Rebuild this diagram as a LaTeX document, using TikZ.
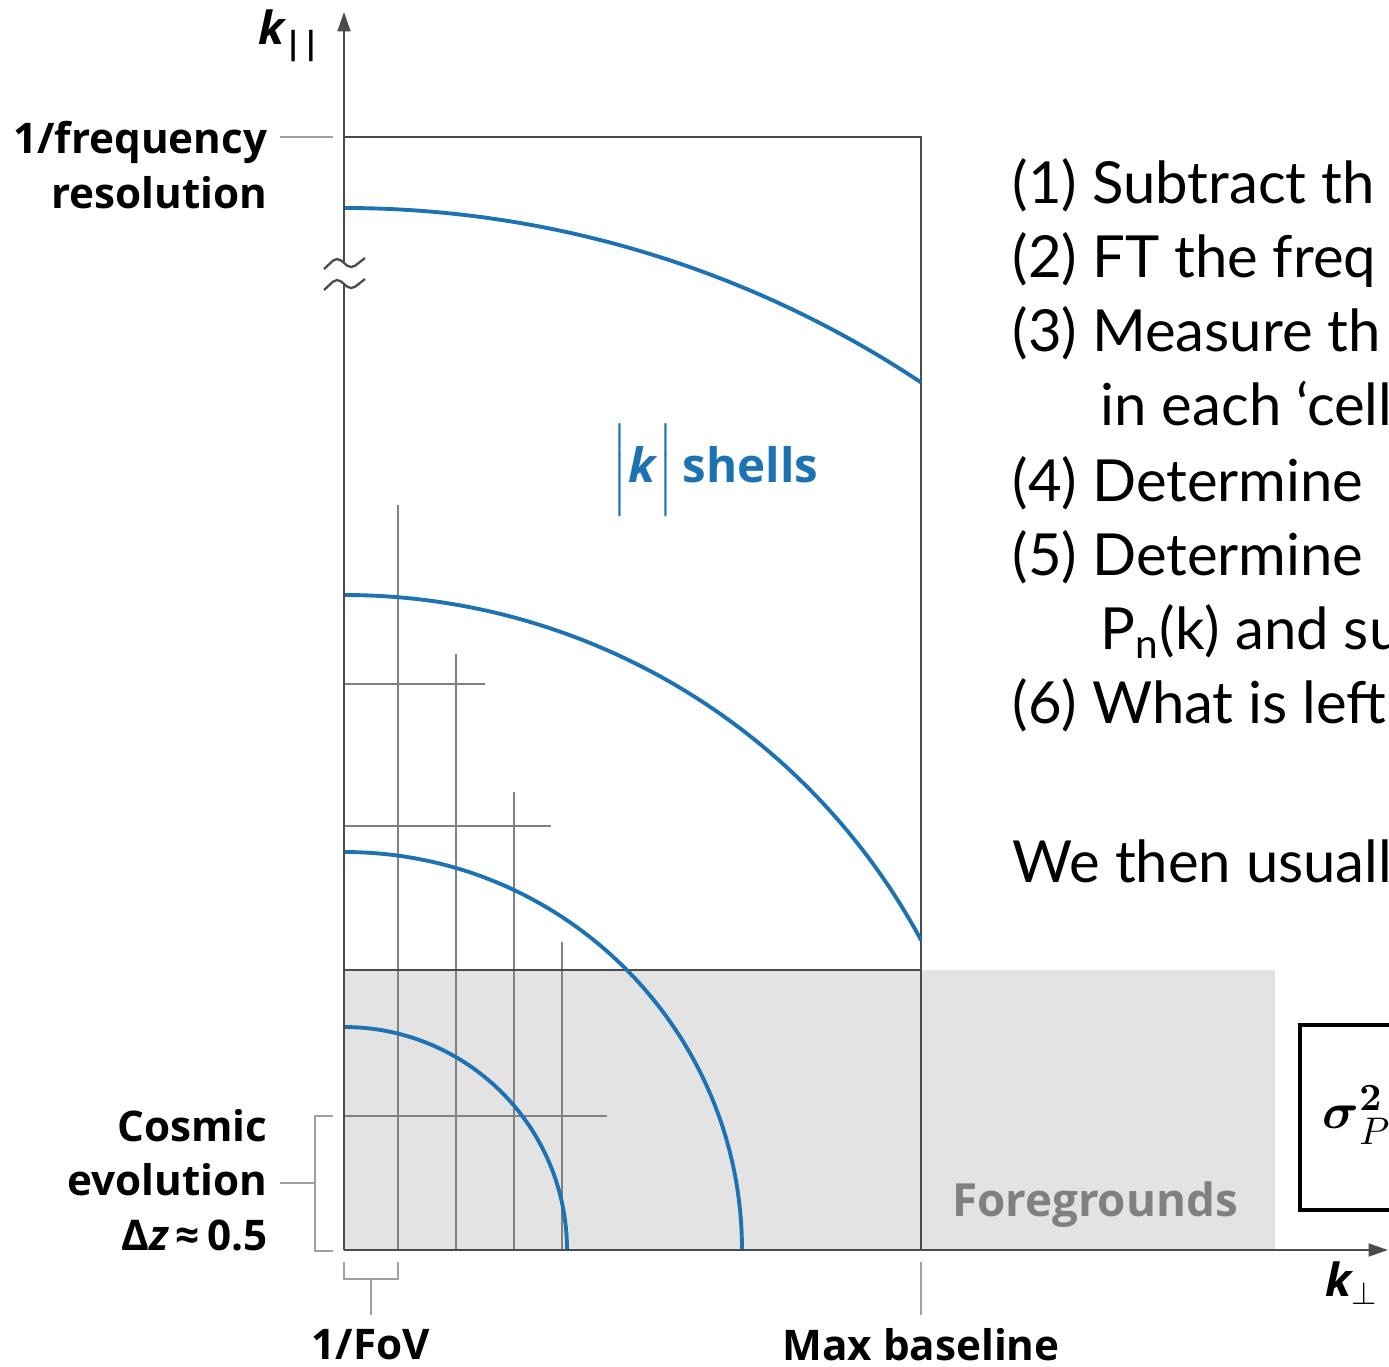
\documentclass[tikz,border=0pt]{standalone}
\usepackage{fontspec}
\usepackage{amsmath}
\usetikzlibrary{arrows.meta}
\newfontfamily\labfont{Open Sans}
\newfontfamily\stepfont{Lato}
\definecolor{shellblue}{RGB}{28,114,178}
\definecolor{fggray}{RGB}{227,227,227}
\definecolor{fgtext}{RGB}{128,128,128}
\definecolor{gridgray}{RGB}{128,128,128}
\definecolor{tickgray}{RGB}{160,160,160}
\definecolor{axisgray}{RGB}{75,75,75}

\begin{document}
\begin{tikzpicture}[x=0.01cm, y=0.01cm,
  lab/.style={font=\labfont\bfseries\fontsize{12}{15.5}\selectfont, inner sep=0pt},
  steptext/.style={font=\stepfont\fontsize{16.5}{20}\selectfont, anchor=base west, inner sep=0pt},
  gridln/.style={gridgray, line width=0.6pt},
  boxln/.style={axisgray, line width=0.7pt},
  axisln/.style={axisgray, line width=0.75pt, -{Triangle[length=5.5pt,width=3.6pt]}},
  tickln/.style={tickgray, line width=0.6pt},
  shellarc/.style={shellblue, line width=1.1pt},
]
\useasboundingbox (0,0) rectangle (1389,1366);
\clip (0,0) rectangle (1389,1366);

\coordinate (O) at (344,116);
\coordinate (ytip) at (344,1354);
\coordinate (xtip) at (1388,116);

\fill[fggray] (344,116) rectangle (1275,396);

\foreach \x/\top in {398/861, 456/712, 514/574, 562/424}
  \draw[gridln] (\x,116) -- (\x,\top);
\foreach \y/\rt in {682/485, 540/551, 250/607}
  \draw[gridln] (344,\y) -- (\rt,\y);

\draw[boxln] (344,396) -- (921,396);
\draw[boxln] (344,1229) -- (921,1229) -- (921,116);

\draw[shellarc] (344,339) arc[start angle=90, end angle=0, radius=223];
\draw[shellarc] (344,514) arc[start angle=90, end angle=0, radius=398];
\draw[shellarc] (344,771) arc[start angle=90, end angle=28.25, radius=655];
\draw[shellarc] (344,1158) arc[start angle=90, end angle=56.38, radius=1042];

\draw[axisln] (O) -- (ytip);
\draw[axisln] (O) -- (xtip);

% axis break
\fill[white] (324,1097) -- (337,1109) -- (351,1097) -- (365,1108)
  -- (365,1087) -- (351,1076) -- (337,1088) -- (324,1076) -- cycle;
\draw[axisgray, line width=0.65pt, rounded corners=1.5pt] (324,1097) -- (337,1109) -- (351,1097) -- (365,1108);
\draw[axisgray, line width=0.65pt, rounded corners=1.5pt] (324,1076) -- (337,1088) -- (351,1076) -- (365,1087);

\node[lab, font=\labfont\bfseries\fontsize{13}{15}\selectfont] (kpar) at (290,1330) {\itshape k\textsubscript{\upshape ||}};
\node[lab, font=\labfont\bfseries\fontsize{13}{15}\selectfont] (kperp) at (1352,83) {\itshape k\textsubscript{$\perp$}};

\node[lab, anchor=east, align=right] (freq) at (268,1201) {1/frequency\\resolution};
\coordinate (freqend) at (333,1229);
\draw[tickln] (freq.east |- freqend) ++(12,0) -- (freqend);

\node[lab, anchor=east, align=right] (cosmic) at (268,186) {Cosmic\\evolution\\Δ\textit{z}\,≈\,0.5};
\coordinate (cosend) at (315,183);
\draw[tickln] (cosmic.east |- cosend) ++(12,0) -- (cosend);
\draw[tickln] (333,250) -- (315,250) -- (315,115) -- (333,115);

\node[lab] (fov) at (371,21) {1/FoV};
\coordinate (fovend) at (371,51);
\draw[tickln] (344,104) -- (344,87) -- (398,87) -- (398,104);
\draw[tickln] (371,87) -- (fovend);

\node[lab] (maxb) at (921,21) {Max baseline};
\coordinate (maxend) at (921,51);
\draw[tickln] (921,104) -- (maxend);

\node[lab, font=\labfont\bfseries\fontsize{13}{16}\selectfont, text=fgtext] (fg) at (1095,161) {Foregrounds};

\node[lab, font=\labfont\bfseries\fontsize{13.5}{16}\selectfont, text=shellblue] (shells) at (715,896) {$\Big|$\textit{k}$\Big|$\,shells};

\draw[line width=1.4pt] (1300,156) rectangle (1440,341);
\node (sig) at (1357,251) {\fontsize{15}{18}\selectfont$\boldsymbol{\sigma}_{P}^{\boldsymbol{2}}$};

\node[steptext] (s1) at (1012,1162) {(1) Subtract th};
\node[steptext] (s2) at (1012,1088) {(2) FT the freq};
\node[steptext] (s3) at (1012,1014) {(3) Measure th};
\node[steptext] (s3b) at (1100,940) {in each ‘cell};
\node[steptext] (s4) at (1012,865) {(4) Determine};
\node[steptext] (s5) at (1012,791) {(5) Determine};
\node[steptext] (s5b) at (1100,717) {P\textsubscript{n}(k) and su};
\node[steptext] (s6) at (1012,643) {(6) What is left};
\node[steptext] (usual) at (1012,484) {We then usuall};

\end{tikzpicture}
\end{document}
